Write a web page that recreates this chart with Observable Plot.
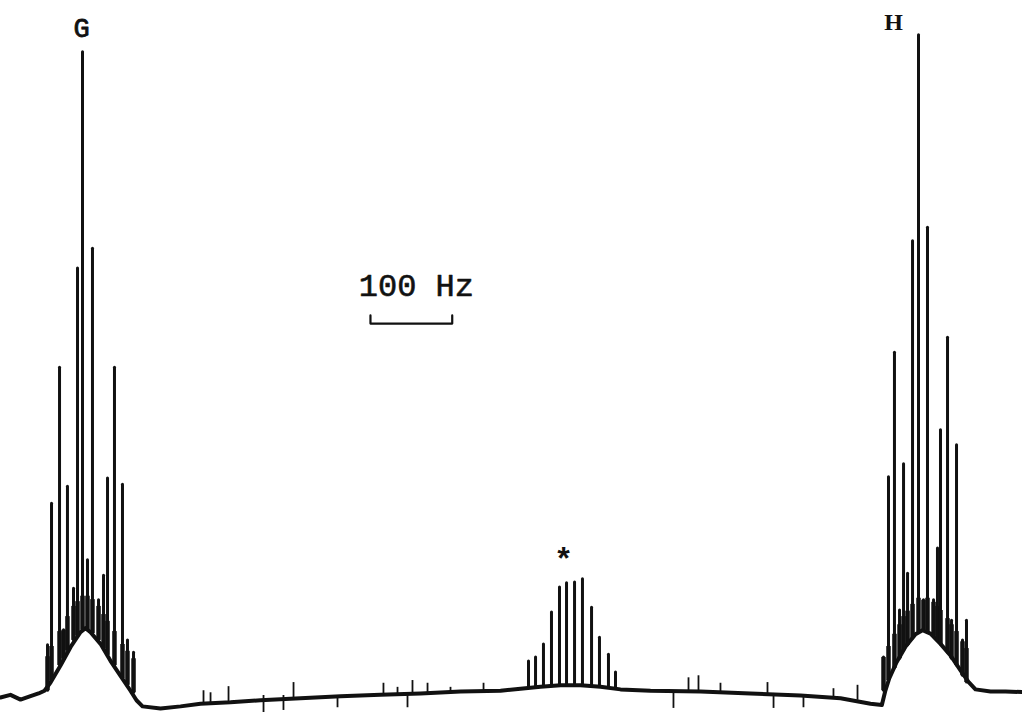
<!DOCTYPE html>
<html>
<head>
<meta charset="utf-8">
<script src="https://cdn.jsdelivr.net/npm/d3@7"></script>
<script src="https://cdn.jsdelivr.net/npm/@observablehq/plot@0.6"></script>
<style>
  html, body { margin: 0; padding: 0; background: #fff; }
  #chart svg { display: block; }
</style>
</head>
<body>
<div id="chart"></div>
<script>
// Frequency in Hz, intensity in arbitrary units (baseline = 0)
// Multiplet G: [frequency, peak top, peak foot]
const gPeaks = [
  [57.5, 7.4, 0.7], [62.4, 28.2, 2.2], [72.2, 48.2, 4.4], [77.1, 9.6, 5.4],
  [81.9, 30.7, 6.6], [89.3, 15.7, 8.1], [94.2, 62.8, 8.8], [100.3, 94.6, 9.6],
  [106.4, 19.9, 9.6], [112.5, 65.7, 9.1], [119.9, 14.0, 8.1], [126.0, 17.6, 6.9],
  [130.9, 31.9, 5.9], [139.4, 48.2, 4.4], [149.2, 31.0, 2.5], [155.3, 8.1, 1.5],
  [162.7, 6.3, 0.4]
];
// Multiplet marked *
const starPeaks = [
  [645.8, 5.0, 1.2], [654.4, 5.6, 1.3], [664.1, 7.5, 1.4], [673.9, 12.2, 1.5],
  [683.7, 15.9, 1.5], [692.3, 16.5, 1.5], [702.1, 16.6, 1.5], [711.8, 17.1, 1.5],
  [722.9, 12.9, 1.4], [732.6, 8.5, 1.3], [743.6, 6.0, 1.2], [752.2, 3.4, 1.0]
];
// Multiplet H
const hPeaks = [
  [1080.0, 5.6, 0.7], [1086.1, 32.1, 2.2], [1093.4, 50.4, 4.0], [1099.6, 12.5, 5.4],
  [1104.5, 34.0, 6.6], [1109.4, 17.9, 7.4], [1115.5, 66.8, 8.4], [1122.8, 97.1, 9.3],
  [1128.9, 14.0, 9.6], [1133.8, 68.8, 9.3], [1141.2, 14.0, 8.7], [1146.0, 21.6, 8.1],
  [1149.7, 39.0, 7.5], [1158.3, 52.6, 6.3], [1163.2, 11.0, 5.4], [1169.3, 36.8, 4.4],
  [1176.6, 8.1, 2.9], [1181.5, 11.0, 1.9]
];
// Baseline trace (with the broad humps under G and H): [frequency, intensity]
const baseline = [
  [0, -0.3], [12.2, 0.1], [24.5, -0.6], [36.7, -0.1], [46.5, 0.3], [53.8, 0.7],
  [61.2, 1.9], [73.4, 4.4], [85.6, 7.1], [97.8, 9.3], [104.0, 9.9], [110.1, 9.3],
  [122.3, 7.6], [134.5, 5.1], [146.8, 2.9], [159.0, 0.7], [166.3, -0.7], [173.7, -1.6],
  [195.7, -1.9], [220.2, -1.6], [244.6, -1.2], [281.3, -1.0], [318.0, -0.7], [366.9, -0.4],
  [415.9, -0.1], [464.8, 0.1], [513.7, 0.3], [562.6, 0.6], [611.6, 0.7], [636.0, 1.0],
  [660.5, 1.3], [684.9, 1.5], [709.4, 1.5], [733.9, 1.3], [758.3, 0.9], [795.0, 0.7],
  [856.2, 0.6], [917.3, 0.3], [978.5, 0.0], [1027.4, -0.4], [1064.1, -1.2], [1078.0, -1.4],
  [1082.0, 0.6], [1087.0, 2.5], [1096.0, 4.9], [1107.0, 7.2], [1119.1, 9.0], [1127.7, 9.6],
  [1137.5, 9.1], [1149.7, 7.6], [1161.9, 5.9], [1174.2, 3.7], [1183.9, 2.0], [1192.5, 0.9],
  [1210.9, 0.6], [1229.2, 0.6], [1250, 0.5]
];
// Noise spikes on the baseline: [frequency, from, to]
const noise = [
  [248.3, -1.2, 0.7], [256.9, -1.2, 0.4], [278.9, -1.0, 1.3], [358.4, -0.6, 1.9],
  [468.4, 0.1, 1.8], [485.6, 0.1, 1.2], [503.9, 0.3, 2.2], [522.3, 0.4, 1.8],
  [550.4, 0.6, 1.2], [590.8, 0.6, 1.8], [841.5, 0.6, 2.6], [853.7, 0.6, 2.9],
  [880.6, 0.4, 1.8], [938.1, 0.3, 1.9], [1018.8, -0.3, 1.0], [1048.2, -0.7, 1.5],
  [321.7, 0.0, -2.5], [346.1, 0.0, -2.2], [412.2, 0.0, -1.8], [497.8, 0.3, -1.8],
  [823.1, 0.6, -1.9], [945.5, 0.3, -1.9], [982.1, 0.0, -1.8]
];
// Scale bar
const scaleLabel = "100 Hz";
const scaleStart = 452.5;   // Hz
const scaleLength = 100;    // Hz
const scaleLevel = 54.7;    // intensity units

const peakTop = (arr) => arr.reduce((a, b) => (b[1] > a[1] ? b : a));
const gMax = peakTop(gPeaks), hMax = peakTop(hPeaks);
const starMid = starPeaks[5];

const ink = "#111";
const allPeaks = [...gPeaks, ...starPeaks, ...hPeaks];
const bigPeaks = [...gPeaks, ...hPeaks];
const bracket = [
  [scaleStart, scaleLevel + 1.2], [scaleStart, scaleLevel],
  [scaleStart + scaleLength, scaleLevel], [scaleStart + scaleLength, scaleLevel + 1.2]
];

const chart = Plot.plot({
  width: 1022,
  height: 715,
  marginLeft: 0,
  marginRight: 0,
  marginTop: 15,
  marginBottom: 20,
  x: {domain: [0, 1250], axis: null},
  y: {domain: [0, 100], axis: null},
  style: {background: "#fff"},
  marks: [
    Plot.line(baseline, {x: d => d[0], y: d => d[1], stroke: ink, strokeWidth: 4, strokeLinejoin: "round"}),
    Plot.ruleX(noise, {x: d => d[0], y1: d => d[1], y2: d => d[2], stroke: ink, strokeWidth: 1.8}),
    // broadened feet of the strong multiplets
    Plot.ruleX(bigPeaks, {x: d => d[0], y1: d => d[2], y2: d => Math.min(d[1], d[2] + 5), stroke: ink, strokeWidth: 4.5}),
    Plot.ruleX(allPeaks, {x: d => d[0], y1: d => d[2], y2: d => d[1], stroke: ink, strokeWidth: 3, strokeLinecap: "round"}),
    Plot.text([gMax], {x: d => d[0], y: d => d[1], text: () => "G", dx: -1, dy: -24,
      fontFamily: "Liberation Mono", fontSize: 27, fill: ink, stroke: ink, strokeWidth: 0.8}),
    Plot.text([hMax], {x: d => d[0], y: d => d[1], text: () => "H", dx: -25, dy: -13,
      fontFamily: "Liberation Serif", fontSize: 24, fontWeight: "bold", fill: ink}),
    Plot.text([starMid], {x: d => d[0], y: d => d[1], text: () => "*", dx: -3, dy: -24,
      fontFamily: "Liberation Mono", fontSize: 32, fontWeight: "bold", fill: ink}),
    Plot.line(bracket, {x: d => d[0], y: d => d[1], stroke: ink, strokeWidth: 2.2}),
    Plot.text([scaleStart + scaleLength / 2], {x: d => d, y: () => scaleLevel, text: () => scaleLabel,
      dx: 5, dy: -38, fontFamily: "Liberation Mono", fontSize: 32, fill: ink, stroke: ink, strokeWidth: 0.6})
  ]
});
document.getElementById("chart").appendChild(chart);
</script>
</body>
</html>
